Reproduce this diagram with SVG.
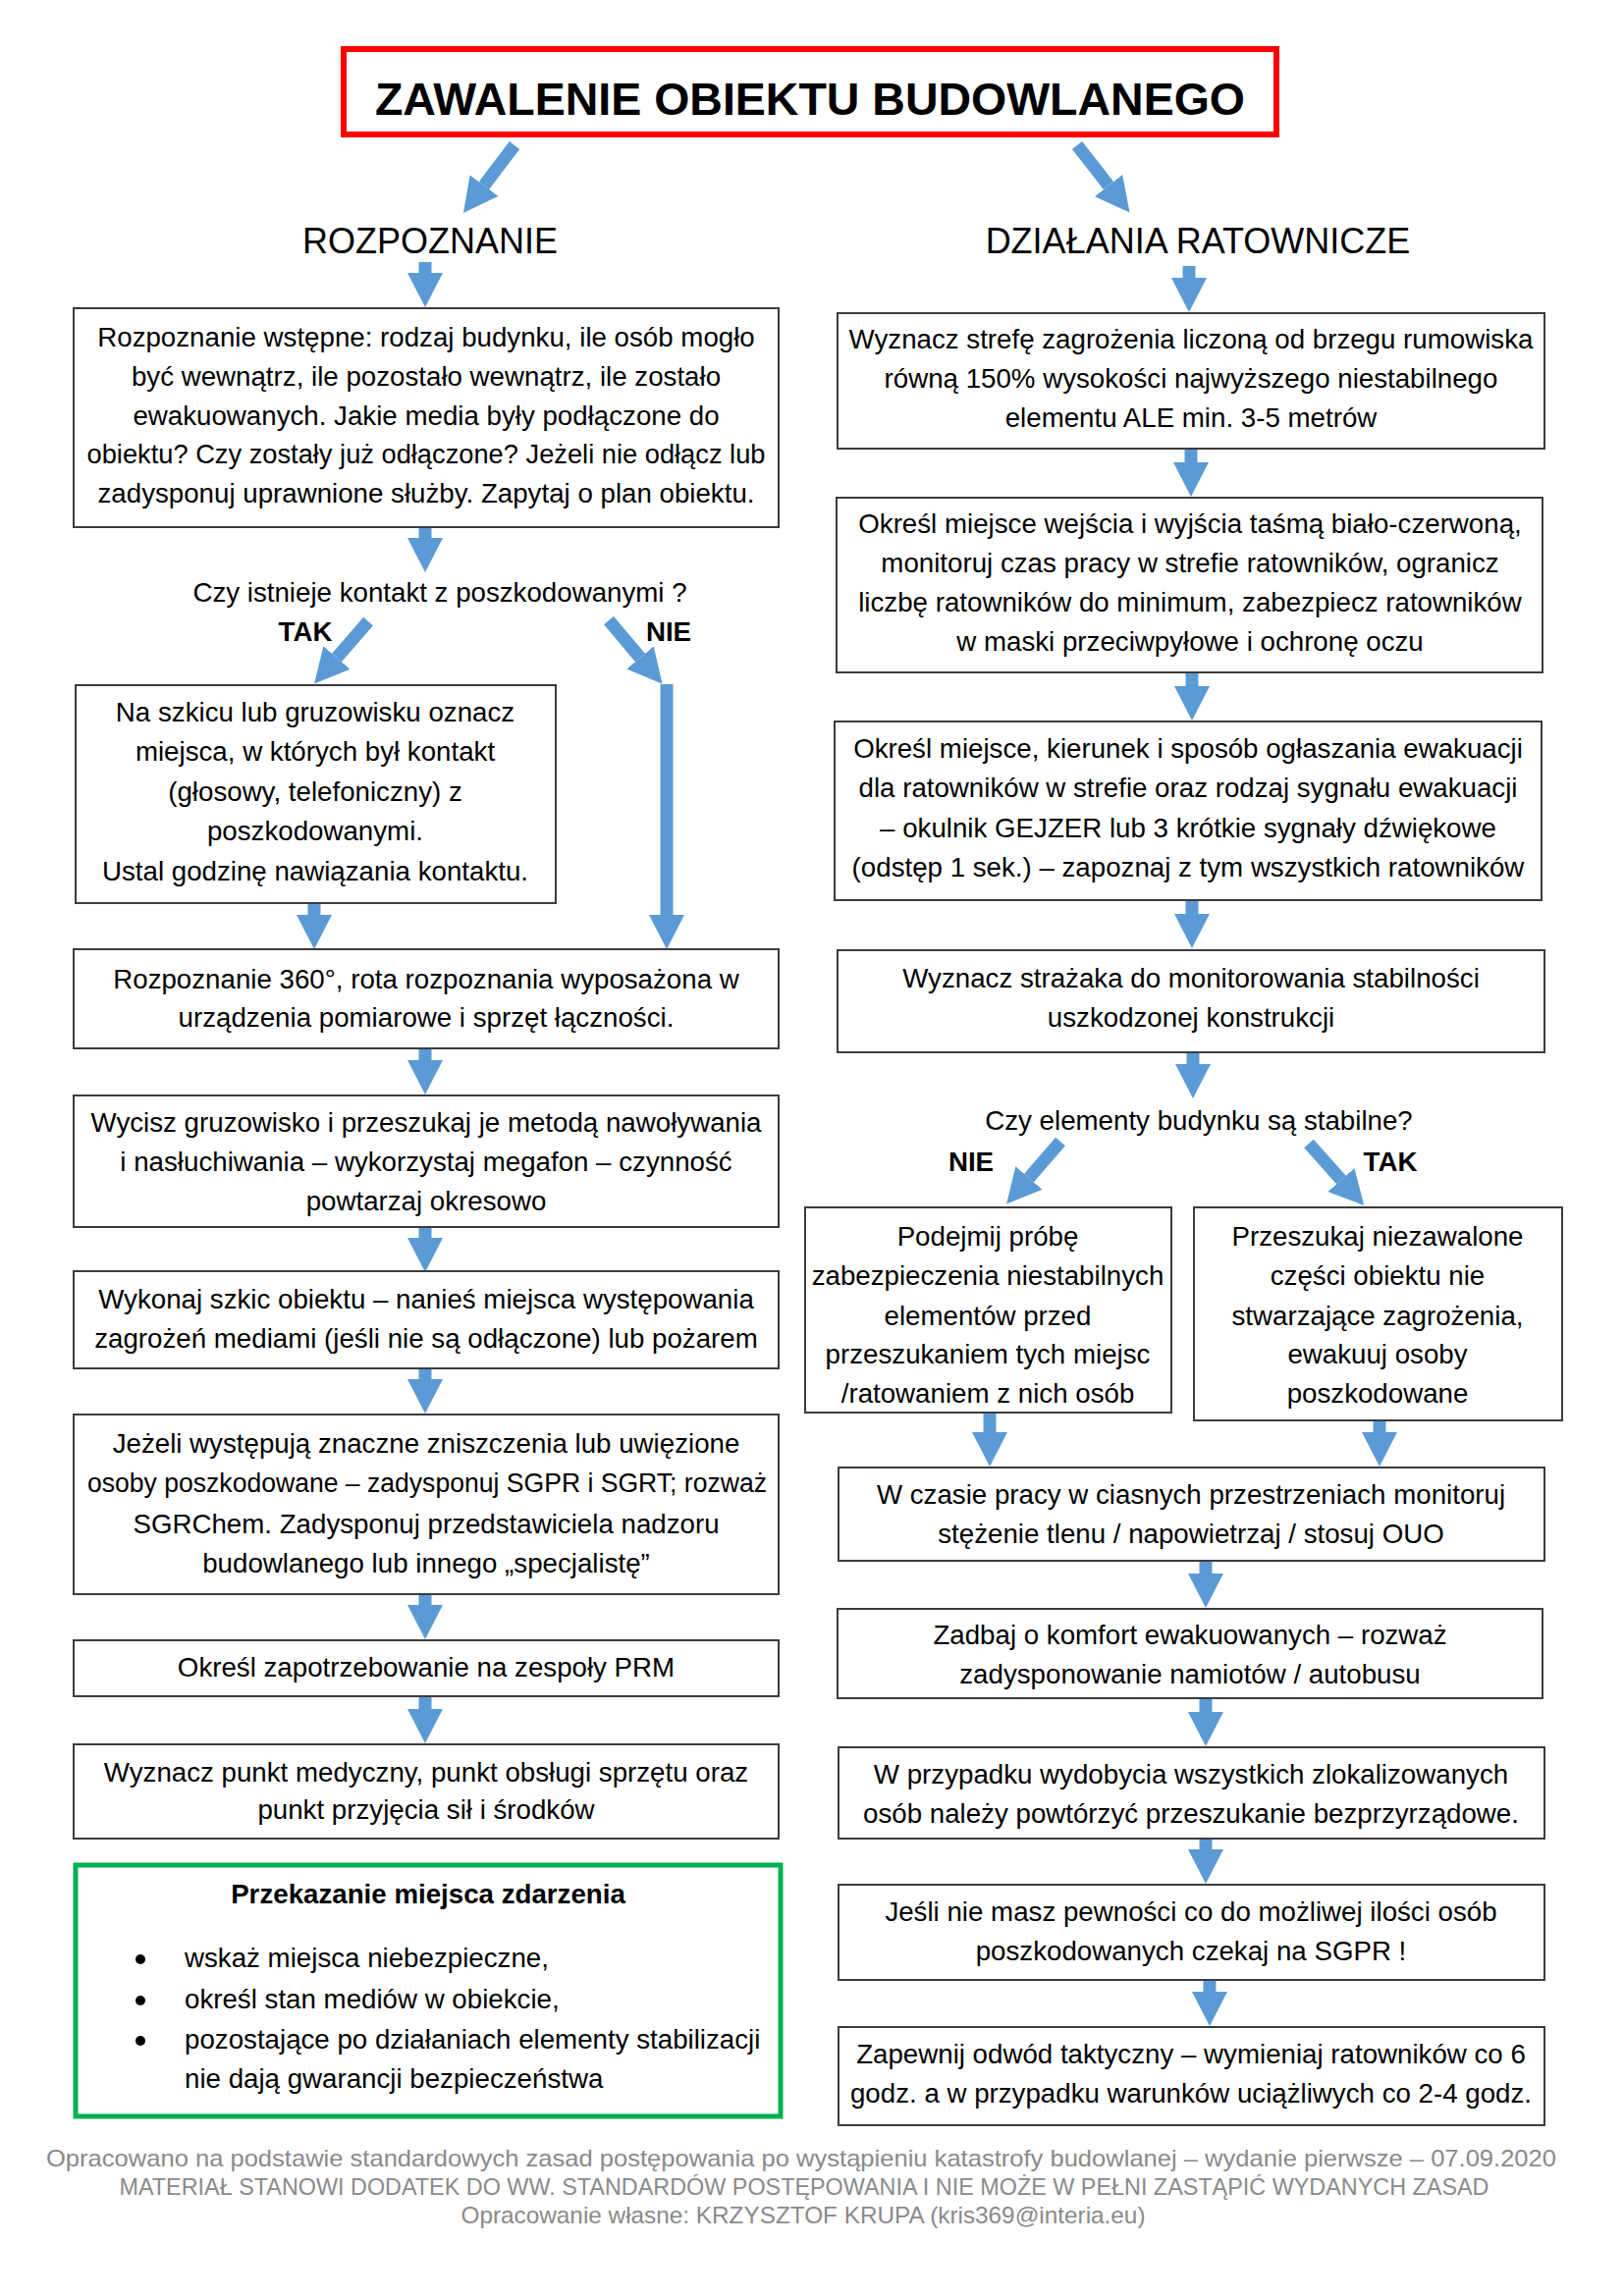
<svg xmlns="http://www.w3.org/2000/svg" width="1654" height="2339" viewBox="0 0 1654 2339">
<defs>
<style>
.box{fill:#fff;stroke:#3c3c3c;stroke-width:2}
.t{font-family:'Liberation Sans',Arial,sans-serif;font-size:27.7px;fill:#000;text-anchor:middle}
.s{font-family:'Liberation Sans',Arial,sans-serif;font-size:27.7px;fill:#000;text-anchor:start}
.b{font-weight:bold}
.h{font-family:'Liberation Sans',Arial,sans-serif;font-size:36px;fill:#000;text-anchor:middle}
.f{font-family:'Liberation Sans',Arial,sans-serif;font-size:24px;fill:#8a8a8a;text-anchor:middle}
.c{stroke:#5B9BD5;stroke-width:13;fill:none;marker-end:url(#ah)}
</style>
<marker id="ah" markerUnits="userSpaceOnUse" markerWidth="35" markerHeight="36" viewBox="0 0 35 36" refX="0" refY="18" orient="auto"><path d="M0,0 L35,18 L0,36 z" fill="#5B9BD5"/></marker>
</defs>
<rect width="1654" height="2339" fill="#fff"/>

<g id="title">
<rect x="350" y="50" width="950" height="87" fill="#fff" stroke="#ff0000" stroke-width="6"/>
<text x="825" y="117" font-family="'Liberation Sans',Arial,sans-serif" font-size="46.5" font-weight="bold" text-anchor="middle">ZAWALENIE OBIEKTU BUDOWLANEGO</text>
</g>
<g id="head-left"><text class="h" x="438" y="258">ROZPOZNANIE</text></g>
<g id="head-right"><text class="h" x="1220" y="258">DZIAŁANIA RATOWNICZE</text></g>

<g id="connectors">
<line class="c" x1="524" y1="148" x2="493" y2="189"/>
<line class="c" x1="1097" y1="148" x2="1129" y2="189"/>
<line class="c" x1="433" y1="267" x2="433" y2="278"/>
<line class="c" x1="433" y1="537" x2="433" y2="548"/>
<line class="c" x1="375" y1="633" x2="343" y2="670"/>
<line class="c" x1="620" y1="632" x2="652" y2="670"/>
<line class="c" x1="679" y1="697" x2="679" y2="932"/>
<line class="c" x1="320" y1="920" x2="320" y2="932"/>
<line class="c" x1="433" y1="1068" x2="433" y2="1080"/>
<line class="c" x1="433" y1="1250" x2="433" y2="1261"/>
<line class="c" x1="433" y1="1394" x2="433" y2="1405"/>
<line class="c" x1="433" y1="1624" x2="433" y2="1635"/>
<line class="c" x1="433" y1="1728" x2="433" y2="1741"/>
<line class="c" x1="1211" y1="271" x2="1211" y2="283"/>
<line class="c" x1="1213" y1="457" x2="1213" y2="471"/>
<line class="c" x1="1214" y1="685" x2="1214" y2="699"/>
<line class="c" x1="1214" y1="917" x2="1214" y2="931"/>
<line class="c" x1="1215" y1="1072" x2="1215" y2="1084"/>
<line class="c" x1="1080" y1="1163" x2="1048" y2="1200"/>
<line class="c" x1="1333" y1="1165" x2="1366" y2="1202"/>
<line class="c" x1="1008" y1="1439" x2="1008" y2="1459"/>
<line class="c" x1="1405" y1="1447" x2="1405" y2="1459"/>
<line class="c" x1="1228" y1="1590" x2="1228" y2="1603"/>
<line class="c" x1="1228" y1="1730" x2="1228" y2="1744"/>
<line class="c" x1="1228" y1="1873" x2="1228" y2="1884"/>
<line class="c" x1="1232" y1="2017" x2="1232" y2="2029"/>
</g>

<g id="b1"><rect class="box" x="75" y="314" width="718" height="223"/>
<text class="t" x="434" y="353">Rozpoznanie wstępne: rodzaj budynku, ile osób mogło</text>
<text class="t" x="434" y="393">być wewnątrz, ile pozostało wewnątrz, ile zostało</text>
<text class="t" x="434" y="433">ewakuowanych. Jakie media były podłączone do</text>
<text class="t" x="434" y="472" textLength="691" lengthAdjust="spacingAndGlyphs">obiektu? Czy zostały już odłączone? Jeżeli nie odłącz lub</text>
<text class="t" x="434" y="512">zadysponuj uprawnione służby. Zapytaj o plan obiektu.</text></g>

<g id="q1"><text class="t" x="448" y="613">Czy istnieje kontakt z poszkodowanymi ?</text>
<text class="t b" x="311" y="653" font-size="26">TAK</text>
<text class="t b" x="681" y="653" font-size="26">NIE</text></g>

<g id="b2"><rect class="box" x="77" y="698" width="489" height="222"/>
<text class="t" x="321" y="735">Na szkicu lub gruzowisku oznacz</text>
<text class="t" x="321" y="775">miejsca, w których był kontakt</text>
<text class="t" x="321" y="816">(głosowy, telefoniczny) z</text>
<text class="t" x="321" y="856">poszkodowanymi.</text>
<text class="t" x="321" y="897">Ustal godzinę nawiązania kontaktu.</text></g>

<g id="b3"><rect class="box" x="75" y="967" width="718" height="101"/>
<text class="t" x="434" y="1007">Rozpoznanie 360°, rota rozpoznania wyposażona w</text>
<text class="t" x="434" y="1046">urządzenia pomiarowe i sprzęt łączności.</text></g>

<g id="b4"><rect class="box" x="75" y="1116" width="718" height="134"/>
<text class="t" x="434" y="1153">Wycisz gruzowisko i przeszukaj je metodą nawoływania</text>
<text class="t" x="434" y="1193">i nasłuchiwania – wykorzystaj megafon – czynność</text>
<text class="t" x="434" y="1233">powtarzaj okresowo</text></g>

<g id="b5"><rect class="box" x="75" y="1295" width="718" height="99"/>
<text class="t" x="434" y="1333">Wykonaj szkic obiektu – nanieś miejsca występowania</text>
<text class="t" x="434" y="1373">zagrożeń mediami (jeśli nie są odłączone) lub pożarem</text></g>

<g id="b6"><rect class="box" x="75" y="1441" width="718" height="183"/>
<text class="t" x="434" y="1480">Jeżeli występują znaczne zniszczenia lub uwięzione</text>
<text class="t" x="435" y="1520" textLength="692" lengthAdjust="spacingAndGlyphs">osoby poszkodowane – zadysponuj SGPR i SGRT; rozważ</text>
<text class="t" x="434" y="1562">SGRChem. Zadysponuj przedstawiciela nadzoru</text>
<text class="t" x="434" y="1602">budowlanego lub innego „specjalistę”</text></g>

<g id="b7"><rect class="box" x="75" y="1671" width="718" height="57"/>
<text class="t" x="434" y="1708">Określ zapotrzebowanie na zespoły PRM</text></g>

<g id="b8"><rect class="box" x="75" y="1777" width="718" height="96"/>
<text class="t" x="434" y="1815">Wyznacz punkt medyczny, punkt obsługi sprzętu oraz</text>
<text class="t" x="434" y="1853">punkt przyjęcia sił i środków</text></g>

<g id="handover"><rect x="77" y="1900" width="718" height="256" fill="#fff" stroke="#00B050" stroke-width="5"/>
<text class="t b" x="436" y="1939" font-size="26">Przekazanie miejsca zdarzenia</text>
<circle cx="143" cy="1996" r="5"/><circle cx="143" cy="2038" r="5"/><circle cx="143" cy="2079" r="5"/>
<text class="s" x="188" y="2004">wskaż miejsca niebezpieczne,</text>
<text class="s" x="188" y="2046">określ stan mediów w obiekcie,</text>
<text class="s" x="188" y="2087">pozostające po działaniach elementy stabilizacji</text>
<text class="s" x="188" y="2127">nie dają gwarancji bezpieczeństwa</text></g>

<g id="r1"><rect class="box" x="853" y="319" width="720" height="138"/>
<text class="t" x="1213" y="355">Wyznacz strefę zagrożenia liczoną od brzegu rumowiska</text>
<text class="t" x="1213" y="395">równą 150% wysokości najwyższego niestabilnego</text>
<text class="t" x="1213" y="435">elementu ALE min. 3-5 metrów</text></g>

<g id="r2"><rect class="box" x="852" y="507" width="719" height="178"/>
<text class="t" x="1212" y="543">Określ miejsce wejścia i wyjścia taśmą biało-czerwoną,</text>
<text class="t" x="1212" y="583">monitoruj czas pracy w strefie ratowników, ogranicz</text>
<text class="t" x="1212" y="623">liczbę ratowników do minimum, zabezpiecz ratowników</text>
<text class="t" x="1212" y="663">w maski przeciwpyłowe i ochronę oczu</text></g>

<g id="r3"><rect class="box" x="850" y="735" width="720" height="182"/>
<text class="t" x="1210" y="772">Określ miejsce, kierunek i sposób ogłaszania ewakuacji</text>
<text class="t" x="1210" y="812">dla ratowników w strefie oraz rodzaj sygnału ewakuacji</text>
<text class="t" x="1210" y="853">– okulnik GEJZER lub 3 krótkie sygnały dźwiękowe</text>
<text class="t" x="1210" y="893">(odstęp 1 sek.) – zapoznaj z tym wszystkich ratowników</text></g>

<g id="r4"><rect class="box" x="853" y="968" width="720" height="104"/>
<text class="t" x="1213" y="1006">Wyznacz strażaka do monitorowania stabilności</text>
<text class="t" x="1213" y="1046">uszkodzonej konstrukcji</text></g>

<g id="q2"><text class="t" x="1221" y="1151">Czy elementy budynku są stabilne?</text>
<text class="t b" x="989" y="1193" font-size="26">NIE</text>
<text class="t b" x="1416" y="1193" font-size="26">TAK</text></g>

<g id="r5a"><rect class="box" x="820" y="1230" width="373" height="209"/>
<text class="t" x="1006" y="1269">Podejmij próbę</text>
<text class="t" x="1006" y="1309">zabezpieczenia niestabilnych</text>
<text class="t" x="1006" y="1350">elementów przed</text>
<text class="t" x="1006" y="1389">przeszukaniem tych miejsc</text>
<text class="t" x="1006" y="1429">/ratowaniem z nich osób</text></g>

<g id="r5b"><rect class="box" x="1216" y="1230" width="375" height="217"/>
<text class="t" x="1403" y="1269">Przeszukaj niezawalone</text>
<text class="t" x="1403" y="1309">części obiektu nie</text>
<text class="t" x="1403" y="1350">stwarzające zagrożenia,</text>
<text class="t" x="1403" y="1389">ewakuuj osoby</text>
<text class="t" x="1403" y="1429">poszkodowane</text></g>

<g id="r6"><rect class="box" x="854" y="1495" width="719" height="95"/>
<text class="t" x="1213" y="1532">W czasie pracy w ciasnych przestrzeniach monitoruj</text>
<text class="t" x="1213" y="1572">stężenie tlenu / napowietrzaj / stosuj OUO</text></g>

<g id="r7"><rect class="box" x="853" y="1639" width="718" height="91"/>
<text class="t" x="1212" y="1675">Zadbaj o komfort ewakuowanych – rozważ</text>
<text class="t" x="1212" y="1715">zadysponowanie namiotów / autobusu</text></g>

<g id="r8"><rect class="box" x="854" y="1780" width="719" height="93"/>
<text class="t" x="1213" y="1817">W przypadku wydobycia wszystkich zlokalizowanych</text>
<text class="t" x="1213" y="1857">osób należy powtórzyć przeszukanie bezprzyrządowe.</text></g>

<g id="r9"><rect class="box" x="854" y="1920" width="719" height="97"/>
<text class="t" x="1213" y="1957">Jeśli nie masz pewności co do możliwej ilości osób</text>
<text class="t" x="1213" y="1997">poszkodowanych czekaj na SGPR !</text></g>

<g id="r10"><rect class="box" x="854" y="2065" width="719" height="100"/>
<text class="t" x="1213" y="2102">Zapewnij odwód taktyczny – wymieniaj ratowników co 6</text>
<text class="t" x="1213" y="2142">godz. a w przypadku warunków uciążliwych co 2-4 godz.</text></g>

<g id="footer">
<text class="f" x="816" y="2207" textLength="1538" lengthAdjust="spacingAndGlyphs">Opracowano na podstawie standardowych zasad postępowania po wystąpieniu katastrofy budowlanej – wydanie pierwsze – 07.09.2020</text>
<text class="f" x="819" y="2236" textLength="1395" lengthAdjust="spacingAndGlyphs">MATERIAŁ STANOWI DODATEK DO WW. STANDARDÓW POSTĘPOWANIA I NIE MOŻE W PEŁNI ZASTĄPIĆ WYDANYCH ZASAD</text>
<text class="f" x="818" y="2265" textLength="697" lengthAdjust="spacingAndGlyphs">Opracowanie własne: KRZYSZTOF KRUPA (kris369@interia.eu)</text>
</g>
</svg>
